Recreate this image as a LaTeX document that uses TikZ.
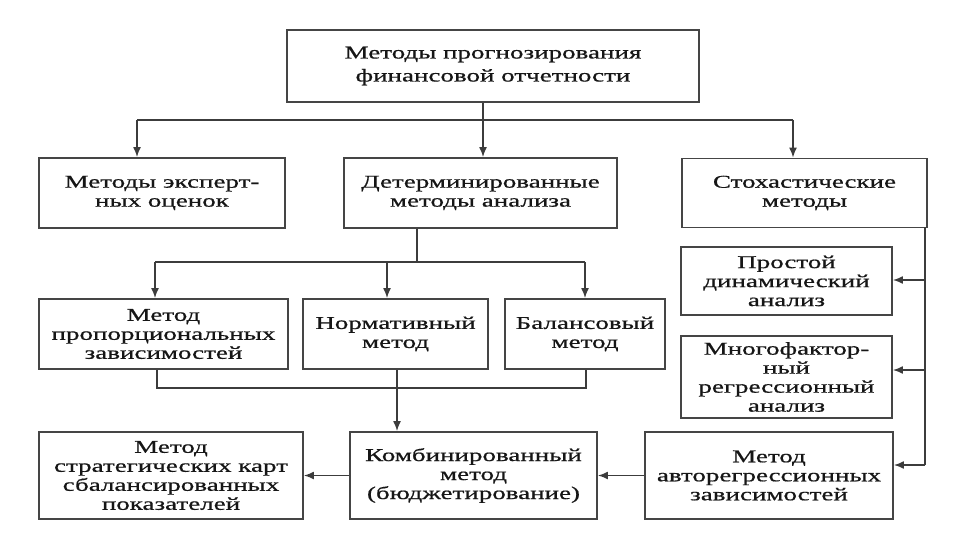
\documentclass[tikz,border=0pt]{standalone}
\usepackage{fontspec}
\setmainfont{Liberation Serif}[FakeStretch=1.5,FakeBold=0.7]
\usetikzlibrary{arrows.meta}
\definecolor{boxline}{HTML}{454545}
\definecolor{conline}{HTML}{3C3C3C}
\definecolor{txt}{HTML}{161616}
\tikzset{
  box/.style={draw=boxline, line width=1.9pt, fill=white, inner sep=0pt,
    align=center, text=txt, font=\fontsize{18}{19}\selectfont},
  conn/.style={draw=conline, line width=1.5pt},
  arr/.style={conn, -{Latex[length=10pt,width=8pt]}}
}
\begin{document}
\begin{tikzpicture}[x=1pt,y=-1pt]
\useasboundingbox[fill=white] (0,0) rectangle (960,540);
% boxes
\node[box, minimum width=412pt, minimum height=72pt, font=\fontsize{18}{23}\selectfont] (top) at (493,66) {Методы прогнозирования\\финансовой отчетности};
\node[box, minimum width=246pt, minimum height=70pt] (exp) at (162,193) {Методы эксперт-\\ных оценок};
\node[box, minimum width=273pt, minimum height=70pt] (det) at (480.5,193) {Детерминированные\\методы анализа};
\node[box, minimum width=245pt, minimum height=69pt] (sto) at (804.5,193) {Стохастические\\методы};
\node[box, minimum width=249pt, minimum height=70pt] (prop) at (163.5,334) {Метод\\пропорциональных\\зависимостей};
\node[box, minimum width=185pt, minimum height=70pt] (norm) at (395.5,334) {Нормативный\\метод};
\node[box, minimum width=160pt, minimum height=70pt] (bal) at (585,334) {Балансовый\\метод};
\node[box, minimum width=211pt, minimum height=68pt] (simp) at (786.5,281) {Простой\\динамический\\анализ};
\node[box, minimum width=211pt, minimum height=82pt] (mult) at (786.5,377) {Многофактор-\\ный\\регрессионный\\анализ};
\node[box, minimum width=264pt, minimum height=87pt] (strat) at (171,475.5) {Метод\\стратегических карт\\сбалансированных\\показателей};
\node[box, minimum width=247pt, minimum height=87pt] (comb) at (473.5,475.5) {Комбинированный\\метод\\(бюджетирование)};
\node[box, minimum width=248pt, minimum height=87pt] (auto) at (769,475.5) {Метод\\авторегрессионных\\зависимостей};
% level 1 -> 2
\coordinate (jL) at (137,120);
\coordinate (jM) at (483,120);
\coordinate (jR) at (793,120);
\draw[conn] (jL) -- (jR);
\draw[conn] (top.south -| jM) -- (jM);
\draw[arr] (jL) -- (jL |- exp.north);
\draw[arr] (jM) -- (jM |- det.north);
\draw[arr] (jR) -- (jR |- sto.north);
% det -> level 3
\coordinate (k0) at (417,262);
\coordinate (kL) at (155,262);
\coordinate (kM) at (387,262);
\coordinate (kR) at (585,262);
\draw[conn] (k0 |- det.south) -- (k0);
\draw[conn] (kL) -- (kR);
\draw[arr] (kL) -- (kL |- prop.north);
\draw[arr] (kM) -- (kM |- norm.north);
\draw[arr] (kR) -- (kR |- bal.north);
% level 3 -> combined
\coordinate (mL) at (157,388);
\coordinate (mM) at (397,388);
\coordinate (mR) at (586,388);
\draw[conn] (mL |- prop.south) -- (mL) -- (mR) -- (mR |- bal.south);
\draw[arr] (mM |- norm.south) -- (mM |- comb.north);
% stochastic branch
\coordinate (r0) at (925,227);
\coordinate (r1) at (925,280);
\coordinate (r2) at (925,370);
\coordinate (r3) at (925,465);
\draw[conn] (r0) -- (r3);
\draw[arr] (r1) -- (r1 -| simp.east);
\draw[arr] (r2) -- (r2 -| mult.east);
\draw[arr] (r3) -- (r3 -| auto.east);
% bottom row
\draw[arr] (comb.west) -- (strat.east);
\draw[arr] (auto.west) -- (comb.east);
\end{tikzpicture}
\end{document}
